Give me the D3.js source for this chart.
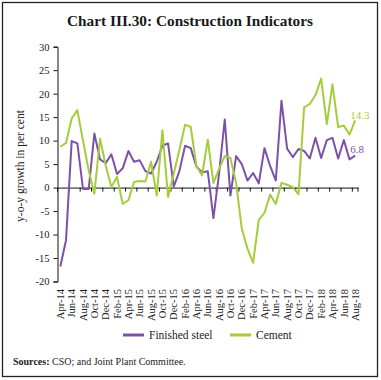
<!DOCTYPE html>
<html><head><meta charset="utf-8">
<script src="https://cdn.jsdelivr.net/npm/d3@7/dist/d3.min.js"></script>
<style>
body{margin:0;background:#fff;}
svg{display:block;font-family:"Liberation Serif","Times New Roman",serif;}
</style></head>
<body><svg id="chart" width="381" height="380"></svg>
<script>
const months = ["Apr-14","May-14","Jun-14","Jul-14","Aug-14","Sep-14","Oct-14","Nov-14","Dec-14","Jan-15","Feb-15","Mar-15",
"Apr-15","May-15","Jun-15","Jul-15","Aug-15","Sep-15","Oct-15","Nov-15","Dec-15","Jan-16","Feb-16","Mar-16",
"Apr-16","May-16","Jun-16","Jul-16","Aug-16","Sep-16","Oct-16","Nov-16","Dec-16","Jan-17","Feb-17","Mar-17",
"Apr-17","May-17","Jun-17","Jul-17","Aug-17","Sep-17","Oct-17","Nov-17","Dec-17","Jan-18","Feb-18","Mar-18",
"Apr-18","May-18","Jun-18","Jul-18","Aug-18"];
const finishedSteel = [-16.8,-11.2,9.9,9.4,-0.3,-0.3,11.5,6.0,5.2,7.1,2.9,4.1,
7.8,5.5,5.8,3.5,3.0,5.5,8.9,9.4,0.2,3.5,8.9,8.4,
4.5,3.2,3.5,-6.5,3.0,14.5,-1.7,6.7,5.0,1.5,3.1,0.9,
8.4,4.6,1.5,18.5,8.3,6.5,8.2,7.8,6.2,10.6,6.3,10.1,
10.6,6.2,10.1,6.0,6.8];
const cement = [8.7,9.5,14.7,16.5,10.0,3.7,-1.3,10.4,4.7,0.1,2.3,-3.5,
-2.7,1.2,1.4,1.3,5.5,-1.7,12.2,-2.0,3.0,8.0,13.4,12.9,
4.6,2.6,10.2,1.0,4.0,6.7,6.3,1.0,-8.7,-13.0,-16.0,-6.9,
-5.4,-1.5,-3.5,1.0,0.6,0.1,-1.4,17.1,17.8,19.7,23.2,13.5,
22.0,12.9,13.2,11.3,14.3];
const yTicks = [-20,-15,-10,-5,0,5,10,15,20,25,30];
const seriesNames = ["Finished steel","Cement"];
const seriesColors = ["#7b52a8","#a4cd3c"];
const endLabels = ["6.8","14.3"];
const titleText = "Chart III.30: Construction Indicators";
const yTitle = "y-o-y growth in per cent";
const sourceBold = "Sources:";
const sourceText = " CSO; and Joint Plant Committee.";

const svg = d3.select("#chart");
svg.append("rect").attr("x",2.5).attr("y",2.5).attr("width",375).attr("height",374)
  .attr("fill","#fff").attr("stroke","#222").attr("stroke-width",1.3);

svg.append("text").attr("x",190).attr("y",26).attr("text-anchor","middle")
  .attr("font-size",15.5).attr("font-weight","bold").attr("fill","#1a1a1a")
  .attr("textLength",246).attr("lengthAdjust","spacingAndGlyphs").text(titleText);

const x = d3.scaleBand().domain(months).range([57.5,358]).padding(0);
const y = d3.scaleLinear().domain([-20,30]).range([281.5,46.7]);
const xc = m => x(m) + x.bandwidth()/2;

// y axis
const ya = svg.append("g").attr("transform","translate(57.5,0)")
  .call(d3.axisLeft(y).tickValues(yTicks).tickFormat(d=>String(d)).tickSize(4).tickPadding(4));
ya.selectAll("text").attr("font-size",10.5).attr("fill","#222").attr("font-family","Liberation Serif");
ya.selectAll("line,path").attr("stroke","#111");

svg.append("text").attr("transform","translate(24,166) rotate(-90)").attr("text-anchor","middle")
  .attr("font-size",11.5).attr("fill","#222").text(yTitle);

// x axis at zero
const xa = svg.append("g").attr("transform",`translate(0,${y(0)})`)
  .call(d3.axisBottom(x).tickValues([]).tickSizeOuter(0));
xa.select("path").attr("stroke","#111");
const evenMonths = months.filter((m,i)=>i%2===0);
xa.selectAll("line.tk").data(evenMonths).enter().append("line").attr("class","tk")
  .attr("x1",m=>x(m)).attr("x2",m=>x(m)).attr("y1",0).attr("y2",4).attr("stroke","#111");
xa.append("line").attr("x1",x.range()[1]).attr("x2",x.range()[1]).attr("y1",0).attr("y2",4).attr("stroke","#111");

svg.append("g").selectAll("text").data(evenMonths).enter().append("text")
  .attr("transform",m=>`translate(${xc(m)},289) rotate(-90)`)
  .attr("text-anchor","end").attr("dy","0.35em").attr("font-size",10.5).attr("fill","#222").text(m=>m);

// lines
const line = d3.line().x((d,i)=>xc(months[i])).y(d=>y(d));
[finishedSteel, cement].forEach((s,k)=>{
  svg.append("path").datum(s).attr("d",line).attr("fill","none")
    .attr("stroke",seriesColors[k]).attr("stroke-width",2).attr("stroke-linejoin","round");
});
const last = months[months.length-1];
svg.append("text").attr("x",xc(last)-5).attr("y",y(finishedSteel[finishedSteel.length-1])-3)
  .attr("font-size",11).attr("fill",seriesColors[0]).text(endLabels[0]);
svg.append("text").attr("x",xc(last)-5).attr("y",y(cement[cement.length-1])-1.5)
  .attr("font-size",11).attr("fill",seriesColors[1]).text(endLabels[1]);

// legend
const lg = [{x:123},{x:230}];
seriesNames.forEach((n,k)=>{
  svg.append("line").attr("x1",lg[k].x).attr("x2",lg[k].x+21).attr("y1",335).attr("y2",335)
    .attr("stroke",seriesColors[k]).attr("stroke-width",3);
  svg.append("text").attr("x",lg[k].x+26).attr("y",339).attr("font-size",11.5).attr("fill","#222").text(n);
});

const st = svg.append("text").attr("x",13).attr("y",365).attr("font-size",10).attr("fill","#222");
st.append("tspan").attr("font-weight","bold").text(sourceBold);
st.append("tspan").text(sourceText);
</script></body></html>
